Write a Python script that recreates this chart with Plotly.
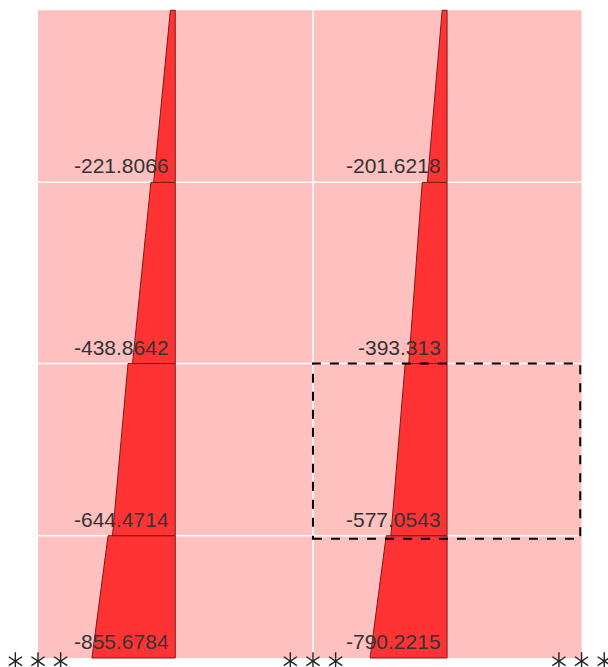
import plotly.graph_objects as go

# ---- data ----
grid_x = [0.0, 6.07, 12.0]             # axis lines (m)
floor_y = [0.0, 2.7, 6.5, 10.5, 14.3]  # floor elevations (m)
column_x = [3.03, 9.03]                # diagram base lines (m)

# axial force at top and bottom of each storey (storey 1..4), kN
left_top = [-690.0, -485.0, -250.0, -50.0]
left_bot = [-855.6784, -644.4714, -438.8642, -221.8066]
right_top = [-625.0, -430.0, -255.0, -50.0]
right_bot = [-790.2215, -577.0543, -393.313, -201.6218]
labels_left = ["-855.6784", "-644.4714", "-438.8642", "-221.8066"]
labels_right = ["-790.2215", "-577.0543", "-393.313", "-201.6218"]

FORCE_SCALE = 0.00215  # m per kN
PX = 45.3              # px per m
W, H = 608, 667
ORIGIN_PX = (38, 658)

fig = go.Figure()

def add_column(xc, tops, bots, labels):
    for i in range(len(tops)):
        y0, y1 = floor_y[i], floor_y[i + 1]
        wb = -bots[i] * FORCE_SCALE
        wt = -tops[i] * FORCE_SCALE
        fig.add_trace(go.Scatter(
            x=[xc, xc - wt, xc - wb, xc, xc],
            y=[y1, y1, y0, y0, y1],
            mode="lines", fill="toself",
            fillcolor="#FF3333",
            line=dict(color="#7A1A1A", width=1),
            hoverinfo="skip", showlegend=False))
        fig.add_annotation(x=xc, y=y0, text=labels[i], showarrow=False,
                           xanchor="right", yanchor="bottom",
                           xshift=-4, yshift=3,
                           font=dict(family="Liberation Sans, Arial", size=21, color="#333333"))

add_column(column_x[0], left_top, left_bot, labels_left)
add_column(column_x[1], right_top, right_bot, labels_right)

# supports (asterisks)
sx, sy = [], []
for gx in grid_x:
    for d in (-0.5, 0.0, 0.5):
        sx.append(gx + d)
        sy.append(floor_y[0] - 0.07)
for sym in ("y-up-open", "y-down-open"):
    fig.add_trace(go.Scatter(x=sx, y=sy, mode="markers",
                             marker=dict(symbol=sym, size=11, color="#222222",
                                         line=dict(color="#222222", width=1.4)),
                             cliponaxis=False, hoverinfo="skip", showlegend=False))

shapes = [dict(type="rect", x0=grid_x[0], x1=grid_x[-1], y0=floor_y[0], y1=floor_y[-1],
               fillcolor="#FFC0C0", line=dict(width=0), layer="below")]
for gx in grid_x[1:-1]:
    shapes.append(dict(type="line", x0=gx, x1=gx, y0=floor_y[0], y1=floor_y[-1],
                       line=dict(color="white", width=1.5), layer="below"))
for fy in floor_y[1:-1]:
    shapes.append(dict(type="line", x0=grid_x[0], x1=grid_x[-1], y0=fy, y1=fy,
                       line=dict(color="white", width=1.5), layer="below"))
# selection box: bay 2, storey 2
shapes.append(dict(type="rect", x0=grid_x[1], x1=grid_x[2] - 0.03, y0=floor_y[1] - 0.07, y1=floor_y[2],
                   line=dict(color="black", width=2, dash="dash"), layer="above"))

fig.update_layout(
    width=W, height=H,
    margin=dict(l=0, r=0, t=0, b=0),
    paper_bgcolor="white", plot_bgcolor="white",
    shapes=shapes,
    xaxis=dict(range=[-ORIGIN_PX[0] / PX, (W - ORIGIN_PX[0]) / PX], visible=False, fixedrange=True),
    yaxis=dict(range=[(ORIGIN_PX[1] - H) / PX, ORIGIN_PX[1] / PX], visible=False, fixedrange=True),
)
fig.write_html("out.html",
               config={"displayModeBar": False},
               post_script="document.body.style.margin='0';document.body.style.overflow='hidden';")
